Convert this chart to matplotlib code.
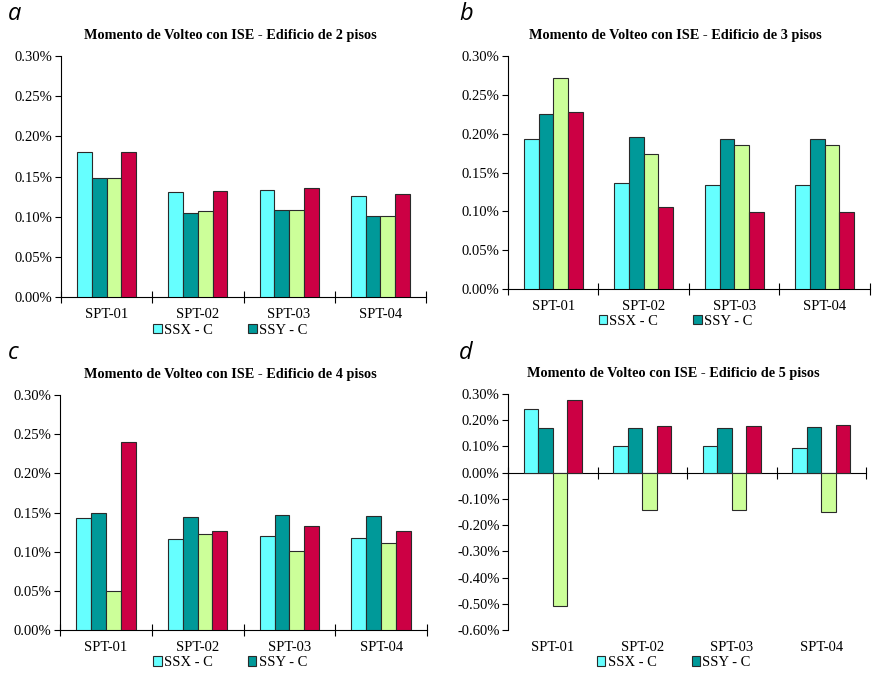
import numpy as np
import matplotlib.pyplot as plt
from matplotlib.ticker import PercentFormatter, MultipleLocator

plt.rcParams["axes.unicode_minus"] = False

categories = ["SPT-01", "SPT-02", "SPT-03", "SPT-04"]
series_names = ["SSX - C", "SSY - C", "SSX - D", "SSY - D"]
colors = ["#66FFFF", "#009999", "#CCFF99", "#CC0044"]

# overturning moment (%), one list per series, per building height
pisos_2 = [
    [0.180, 0.131, 0.133, 0.126],
    [0.148, 0.104, 0.108, 0.101],
    [0.148, 0.107, 0.108, 0.101],
    [0.180, 0.132, 0.136, 0.128],
]
pisos_3 = [
    [0.193, 0.137, 0.134, 0.134],
    [0.225, 0.196, 0.193, 0.193],
    [0.272, 0.174, 0.186, 0.186],
    [0.228, 0.106, 0.099, 0.099],
]
pisos_4 = [
    [0.143, 0.116, 0.120, 0.117],
    [0.150, 0.144, 0.147, 0.146],
    [0.050, 0.123, 0.101, 0.111],
    [0.240, 0.127, 0.133, 0.126],
]
pisos_5 = [
    [0.243, 0.102, 0.102, 0.093],
    [0.169, 0.169, 0.169, 0.174],
    [-0.509, -0.141, -0.141, -0.150],
    [0.278, 0.179, 0.179, 0.183],
]

panels = [
    ("a", "Momento de Volteo con ISE - Edificio de 2 pisos", pisos_2,
     [0.070, 0.5587, 0.4185, 0.358], (0.0, 0.30, 0.05)),
    ("b", "Momento de Volteo con ISE - Edificio de 3 pisos", pisos_3,
     [0.5826, 0.5706, 0.415, 0.346], (0.0, 0.30, 0.05)),
    ("c", "Momento de Volteo con ISE - Edificio de 4 pisos", pisos_4,
     [0.0688, 0.0639, 0.4209, 0.349], (0.0, 0.30, 0.05)),
    ("d", "Momento de Volteo con ISE - Edificio de 5 pisos", pisos_5,
     [0.5826, 0.0639, 0.4106, 0.3507], (-0.60, 0.30, 0.10)),
]

serif = "Liberation Serif"
fig = plt.figure(figsize=(8.72, 6.73), dpi=100)

x = np.arange(len(categories))
width = 0.162
offsets = (np.arange(4) - 1.5) * width

for letter, title, data, rect, (ymin, ymax, step) in panels:
    ax = fig.add_axes(rect)
    bars = []
    for i, vals in enumerate(data):
        b = ax.bar(x + offsets[i], vals, width, color=colors[i],
                   edgecolor="#2a2a2a", linewidth=0.8, zorder=3)
        bars.append(b)

    ax.set_xlim(-0.5, 3.5)
    ax.set_ylim(ymin, ymax)
    ax.yaxis.set_major_locator(MultipleLocator(step))
    ax.yaxis.set_major_formatter(PercentFormatter(xmax=100, decimals=2))
    for lab in ax.get_yticklabels():
        lab.set_fontfamily(serif)
        lab.set_fontsize(10.5)
    ax.tick_params(axis="y", direction="out", length=4, width=0.8, pad=2)

    ax.spines["top"].set_visible(False)
    ax.spines["right"].set_visible(False)
    ax.spines["bottom"].set_position(("data", 0))
    ax.spines["left"].set_linewidth(0.8)
    ax.spines["bottom"].set_linewidth(0.8)

    # category boundaries as ticks on the zero line
    ax.set_xticks(np.arange(-0.5, 4.0, 1.0))
    ax.set_xticklabels([])
    ax.tick_params(axis="x", direction="inout", length=8, width=0.8)

    # category names along the bottom of the plot area
    sec = ax.secondary_xaxis(0)
    sec.set_xticks(x, categories)
    sec.tick_params(length=0, pad=8)
    sec.spines["bottom"].set_visible(False)
    for lab in sec.get_xticklabels():
        lab.set_fontfamily(serif)
        lab.set_fontsize(10.5)

    ax.text(0.463, 1.06, title, transform=ax.transAxes, ha="center",
            va="bottom", fontfamily=serif, fontweight="bold", fontsize=10.3)

    ax.legend(bars[:2], series_names[:2], loc="upper center",
              bbox_to_anchor=(0.463, -0.08), ncol=2, frameon=False,
              handlelength=0.6, handleheight=0.6, handletextpad=0.15,
              columnspacing=2.4, borderpad=0,
              prop={"family": serif, "size": 10.5})

    pos = ax.get_position()
    lx = 8 / 872 if pos.x0 < 0.5 else 459 / 872
    ly = 1 - 14 / 673 if pos.y0 > 0.5 else 1 - 353 / 673
    fig.text(lx, ly, letter, ha="left", va="center", fontsize=17,
             style="italic", fontfamily=["Open Sans", "DejaVu Sans"])

fig.savefig("out.png", dpi=100)
